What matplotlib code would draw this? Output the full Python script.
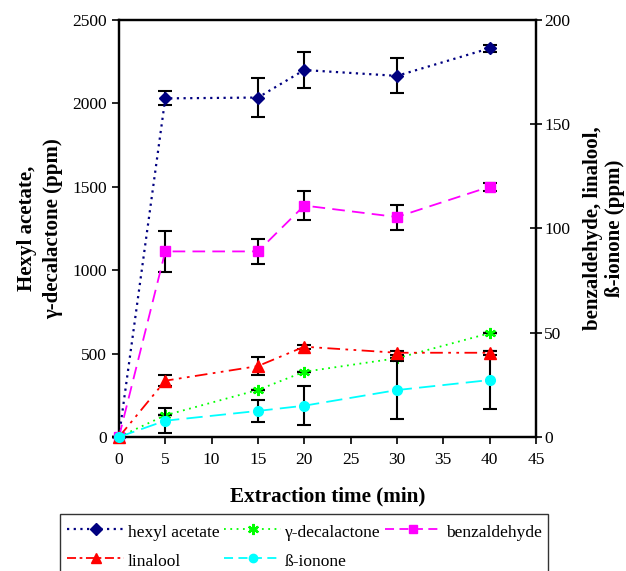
import matplotlib
matplotlib.use("Agg")
import matplotlib.pyplot as plt
from matplotlib.lines import Line2D

plt.rcParams['font.family'] = ['Liberation Serif', 'DejaVu Serif']
plt.rcParams['mathtext.fontset'] = 'stix'

time = [0, 5, 15, 20, 30, 40]

# left axis (ppm)
hexyl = [0, 2030, 2035, 2200, 2165, 2330]
hexyl_err = [0, 42, 115, 110, 105, 20]
decal = [0, 130, 282, 391, 472, 622]
decal_err = [0, 0, 0, 0, 0, 0]

# right axis (ppm)
benz = [0, 89, 89, 111, 105.5, 120]
benz_err = [0, 10, 6, 7, 6, 2]
lina = [0, 27, 34, 43.3, 40.4, 40.4]
lina_err = [0, 2.6, 4.3, 1, 1, 1]
ionone = [0, 7.8, 12.5, 15, 22.5, 27.3]
ionone_err = [0, 6, 5.2, 9.4, 14, 13.8]

labels = ['hexyl acetate', 'γ-decalactone', 'benzaldehyde', 'linalool', 'ß-ionone']

fig = plt.figure(figsize=(6.26, 5.71), dpi=100)
ax = fig.add_axes([0.190, 0.2347, 0.666, 0.7303])
ax2 = ax.twinx()

ebkw = dict(ecolor='black', elinewidth=1.5, capsize=5, capthick=1.5)

ax.errorbar(time, hexyl, yerr=hexyl_err, color='#000080', ls=(0, (1, 2)), lw=1.6,
            marker='D', ms=6, mfc='#000080', mec='#000080', **ebkw, zorder=3)
ax.errorbar(time, decal, yerr=decal_err, color='#00ff00', ls=(0, (1, 2.5)), lw=1.3,
            marker=(6, 2, 0), ms=8, mec='#00ff00', mew=1.6, **ebkw, zorder=3)

ax2.errorbar(time, benz, yerr=benz_err, color='#ff00ff', ls=(0, (7, 4)), lw=1.3,
             marker='s', ms=7, mfc='#ff00ff', mec='#ff00ff', **ebkw, zorder=3)
ax2.errorbar(time, lina, yerr=lina_err, color='#ff0000', ls=(0, (7, 3, 1.5, 3, 1.5, 3)), lw=1.3,
             marker='^', ms=8, mfc='#ff0000', mec='#ff0000', **ebkw, zorder=3)
ax2.errorbar(time, ionone, yerr=ionone_err, color='#00ffff', ls=(0, (9, 4)), lw=1.3,
             marker='o', ms=7, mfc='#00ffff', mec='#00ffff', **ebkw, zorder=3)

ax.set_xlim(0, 45)
ax.set_ylim(0, 2500)
ax2.set_ylim(0, 200)
ax.set_xticks(range(0, 46, 5))
ax.set_yticks(range(0, 2501, 500))
ax2.set_yticks(range(0, 201, 50))

for a in (ax, ax2):
    for s in a.spines.values():
        s.set_linewidth(1.6)
        s.set_clip_on(False)
ax.tick_params(axis='both', direction='out', length=5, width=1.2, labelsize=12.5)
ax.tick_params(axis='x', pad=6)
ax2.tick_params(axis='y', direction='inout', length=8, width=1.2, labelsize=12.5, pad=2)
for a in (ax, ax2):
    for ln in a.lines:
        ln.set_clip_on(False)

ax.set_xlabel('Extraction time (min)', fontsize=15.2, fontweight='bold', labelpad=13)
ax.set_ylabel('Hexyl acetate,\nγ-decalactone (ppm)', fontsize=15, fontweight='bold',
              labelpad=7, linespacing=1.4)
ax2.set_ylabel('benzaldehyde, linalool,\nß-ionone (ppm)', fontsize=15, fontweight='bold',
               labelpad=9, linespacing=1.15)

handles = [
    Line2D([], [], color='#000080', ls=(0, (1, 2)), lw=1.6, marker='D', ms=6),
    Line2D([], [], color='#00ff00', ls=(0, (1, 2.5)), lw=1.3, marker=(6, 2, 0), ms=8, mew=1.6),
    Line2D([], [], color='#ff00ff', ls=(0, (5, 3)), lw=1.3, marker='s', ms=6),
    Line2D([], [], color='#ff0000', ls=(0, (5, 2, 1.5, 2)), lw=1.3, marker='^', ms=7),
    Line2D([], [], color='#00ffff', ls=(0, (5, 3)), lw=1.3, marker='o', ms=6),
]
order = [0, 3, 1, 4, 2]
leg = fig.legend([handles[i] for i in order], [labels[i] for i in order],
                 ncol=3, loc='upper left', bbox_to_anchor=(0.096, 0.0, 0.78, 0.1),
                 mode='expand', fontsize=12.5, frameon=True, fancybox=False,
                 edgecolor='black', handlelength=3.3, handletextpad=0.2, handleheight=1.4,
                 columnspacing=0.6, borderaxespad=0, labelspacing=0.55, borderpad=0.4)
leg.get_frame().set_linewidth(1.0)

fig.savefig('out.png', dpi=100)
